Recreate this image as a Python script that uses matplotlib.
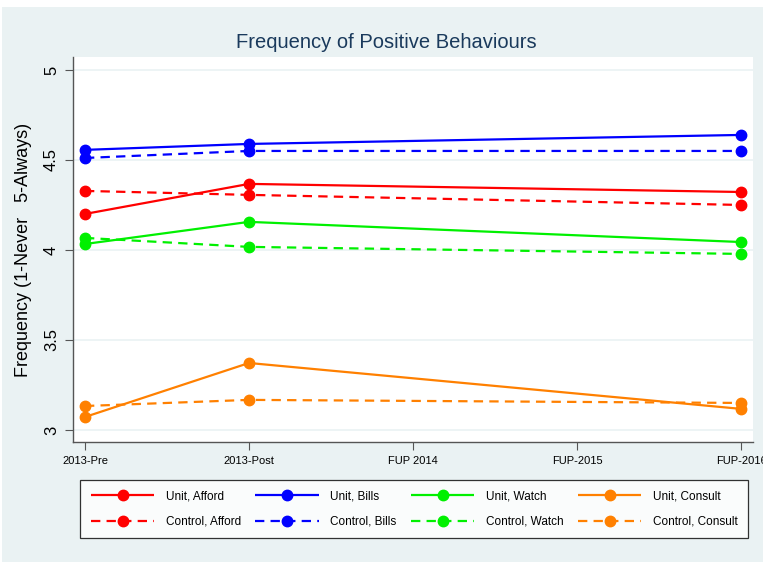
import matplotlib
matplotlib.use("Agg")
import matplotlib.pyplot as plt
from matplotlib.patches import Rectangle

plt.rcParams.update({
    "font.family": ["Liberation Sans", "DejaVu Sans"],
})

WAVES = ["2013-Pre", "2013-Post", "FUP 2014", "FUP-2015", "FUP-2016"]
OBS_X = [0, 1, 4]

unit_afford = [4.20, 4.367, 4.322]
unit_bills = [4.556, 4.589, 4.639]
unit_watch = [4.033, 4.156, 4.044]
unit_consult = [3.072, 3.372, 3.117]

control_afford = [4.328, 4.306, 4.25]
control_bills = [4.511, 4.55, 4.55]
control_watch = [4.067, 4.017, 3.978]
control_consult = [3.133, 3.167, 3.15]

Y_TICKS = [3, 3.5, 4, 4.5, 5]
Y_TICK_LABELS = ["3", "3.5", "4", "4.5", "5"]

COLORS = {
    "Afford": "#FF0000",
    "Bills": "#0000FF",
    "Watch": "#00F000",
    "Consult": "#FF8000",
}
BG = "#EAF2F3"

series = [
    ("Unit, Afford", unit_afford, "Afford", "-"),
    ("Control, Afford", control_afford, "Afford", "--"),
    ("Unit, Bills", unit_bills, "Bills", "-"),
    ("Control, Bills", control_bills, "Bills", "--"),
    ("Unit, Watch", unit_watch, "Watch", "-"),
    ("Control, Watch", control_watch, "Watch", "--"),
    ("Unit, Consult", unit_consult, "Consult", "-"),
    ("Control, Consult", control_consult, "Consult", "--"),
]

fig = plt.figure(figsize=(7.63, 5.62), dpi=100, facecolor="white")
fig.patches.append(Rectangle((0.003, 0), 0.997, 1 - 7 / 562, transform=fig.transFigure,
                             facecolor=BG, edgecolor="none", zorder=-10))
ax = fig.add_axes([73 / 763, 1 - 442 / 562, 680 / 763, 385 / 562])
ax.set_facecolor("white")

handles = []
for label, vals, key, ls in series:
    (line,) = ax.plot(OBS_X, vals, color=COLORS[key], lw=1.6, marker="o", ms=7.5,
                      label=label, zorder=3, solid_capstyle="butt")
    if ls == "--":
        line.set_dashes((4.2, 2.8))
    handles.append(line)

ax.set_xlim(-0.073, 4.073)
ax.set_ylim(2.933, 5.072)
ax.set_yticks(Y_TICKS, labels=Y_TICK_LABELS)
ax.set_xticks(range(len(WAVES)), labels=WAVES)
for lbl in ax.get_yticklabels():
    lbl.set_rotation(90)
    lbl.set_va("center")
ax.tick_params(axis="y", labelsize=12, length=6, color="#555555", pad=4)
ax.tick_params(axis="x", labelsize=8, length=6, color="#555555", pad=4)
ax.grid(True, axis="y", color=BG, lw=1.2, zorder=0)
for side in ["top", "right"]:
    ax.spines[side].set_visible(False)
for side in ["left", "bottom"]:
    ax.spines[side].set_color("#555555")
    ax.spines[side].set_linewidth(1.0)

ax.set_ylabel("Frequency (1-Never   5-Always)", fontsize=13, labelpad=9)
fig.text(386 / 763, 1 - 42 / 562, "Frequency of Positive Behaviours", ha="center", va="center",
         fontsize=14.5, color="#1A3A5C")

leg = fig.legend(handles=handles, loc="center", ncol=4,
                 bbox_to_anchor=(80 / 763, 1 - 540 / 562, 668 / 763, 62 / 562),
                 mode="expand", fontsize=8.5, numpoints=1, handlelength=5.4,
                 handletextpad=0.95, columnspacing=1.0, labelspacing=1.15,
                 borderpad=0.9, borderaxespad=0, fancybox=False, frameon=True)
leg.get_frame().set_edgecolor("black")
leg.get_frame().set_linewidth(0.9)
leg.get_frame().set_facecolor("white")

fig.savefig("out.png", dpi=100, facecolor=fig.get_facecolor())
